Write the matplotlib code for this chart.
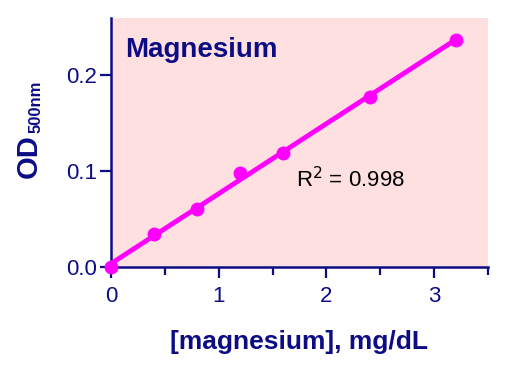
import numpy as np
import matplotlib
matplotlib.use("Agg")
import matplotlib.pyplot as plt

plt.rcParams['font.family'] = ['Liberation Sans', 'DejaVu Sans']

conc = [0, 0.4, 0.8, 1.2, 1.6, 2.4, 3.2]
od = [0.0, 0.034, 0.061, 0.098, 0.119, 0.177, 0.237]
xticks = [0, 1, 2, 3]
xminor = [0.5, 1.5, 2.5, 3.5]
yticks = [0.0, 0.1, 0.2]
ytick_labels = ['0.0', '0.1', '0.2']
title = 'Magnesium'
r2_text = 'R$^2$ = 0.998'
xlabel = '[magnesium], mg/dL'
ylabel_main = 'OD'
ylabel_sub = '500nm'

navy = '#0C0C85'
magenta = '#FF00FF'
bg = '#FDE0DF'

W, H = 529, 387
fig = plt.figure(figsize=(W/100, H/100), dpi=100)
ax = fig.add_axes([111/W, 1-267/H, (488-111)/W, (267-18)/H])
ax.set_facecolor(bg)

slope, intercept = np.polyfit(conc, od, 1)
xf = np.array([conc[0], conc[-1]])
ax.plot(xf, slope*xf + intercept, color=magenta, lw=3.5, solid_capstyle='round', zorder=3)
ax.plot(conc, od, 'o', color=magenta, ms=9, zorder=4, clip_on=False)

ax.set_xlim(0, 3.5)
ax.set_ylim(0, 0.26)
ax.set_xticks(xticks)
ax.set_xticks(xminor, minor=True)
ax.set_yticks(yticks)
ax.set_yticklabels(ytick_labels)

for s in ['top', 'right']:
    ax.spines[s].set_visible(False)
for s in ['left', 'bottom']:
    ax.spines[s].set_color(navy)
    ax.spines[s].set_linewidth(1.8)

ax.tick_params(axis='both', which='major', direction='out', length=8, width=1.6,
               color=navy, labelcolor=navy, labelsize=16)
ax.tick_params(axis='x', which='major', pad=6)
ax.tick_params(axis='y', which='major', pad=2)
ax.tick_params(axis='x', which='minor', direction='out', length=6, width=1.6, color=navy)

ax.text(0.037, 0.924, title, transform=ax.transAxes, fontsize=20, fontweight='bold',
        color=navy, va='top', ha='left')
ax.text(1.72, 0.0835, r2_text, fontsize=16, color='black', va='baseline', ha='left')

ax.set_xlabel(xlabel, fontsize=19, fontweight='bold', color=navy, labelpad=16)

fig.text(29/W, 1-178/H, ylabel_main, rotation=90, fontsize=21, fontweight='bold',
         color=navy, ha='center', va='bottom')
fig.text(36/W, 1-133/H, ylabel_sub, rotation=90, fontsize=12, fontweight='bold',
         color=navy, ha='center', va='bottom')

fig.savefig('out.png', dpi=100)
